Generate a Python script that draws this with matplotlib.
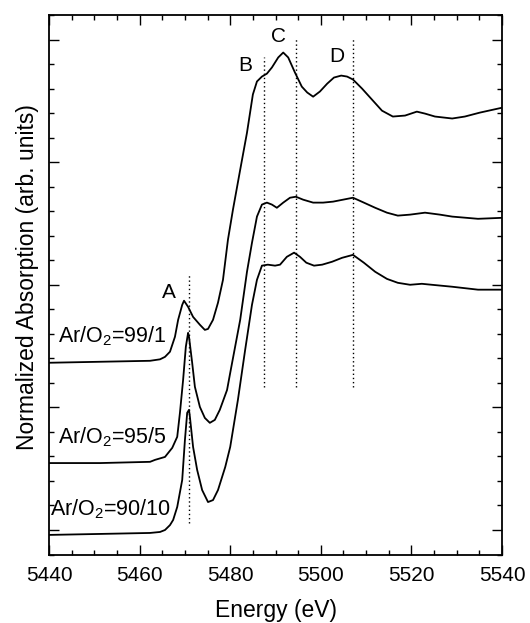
import numpy as np
import matplotlib
matplotlib.use('Agg')
import matplotlib.pyplot as plt
from matplotlib.ticker import MultipleLocator, FixedLocator, NullFormatter

plt.rcParams['font.family'] = ['Liberation Sans', 'DejaVu Sans']
plt.rcParams['mathtext.fontset'] = 'custom'
plt.rcParams['mathtext.rm'] = 'Liberation Sans'

# Ar/O2 = 99/1 (top curve)
e_991 = [5440.0, 5462.3, 5464.5, 5465.6, 5466.7, 5467.8, 5468.5, 5469.4, 5469.8, 5470.7,
         5471.8, 5473.3, 5474.4, 5475.1, 5476.2, 5477.3, 5478.4, 5479.5, 5480.6, 5482.2,
         5483.7, 5485.0, 5485.9, 5487.0, 5488.1, 5489.2, 5490.6, 5491.7, 5492.8, 5494.3,
         5495.8, 5497.0, 5498.3, 5499.8, 5501.4, 5502.9, 5504.5, 5505.8, 5507.1, 5509.1,
         5511.3, 5513.5, 5515.9, 5518.6, 5521.2, 5523.0, 5525.2, 5529.0, 5531.8, 5535.1,
         5540.0]
a_991 = [7.82, 7.90, 7.96, 8.06, 8.27, 8.88, 9.57, 10.18, 10.35, 10.10,
         9.69, 9.37, 9.16, 9.20, 9.57, 10.27, 11.20, 12.84, 14.06, 15.69,
         17.20, 18.76, 19.29, 19.49, 19.61, 19.86, 20.27, 20.47, 20.27, 19.65,
         19.08, 18.84, 18.67, 18.88, 19.20, 19.45, 19.53, 19.49, 19.37, 19.00,
         18.55, 18.10, 17.86, 17.90, 18.06, 17.98, 17.86, 17.78, 17.86, 18.02,
         18.22]

# Ar/O2 = 95/5 (middle curve)
e_955 = [5440.0, 5451.3, 5462.3, 5463.4, 5465.6, 5467.2, 5468.3, 5468.9, 5469.6, 5470.2,
         5470.7, 5470.9, 5471.6, 5472.2, 5473.3, 5474.4, 5475.5, 5476.6, 5477.7, 5479.3,
         5480.0, 5482.2, 5483.7, 5484.8, 5485.9, 5487.0, 5488.1, 5489.2, 5490.3, 5491.7,
         5493.2, 5494.5, 5496.1, 5498.3, 5500.5, 5502.7, 5504.9, 5507.1, 5509.5, 5512.0,
         5514.6, 5517.0, 5519.7, 5523.0, 5526.3, 5529.0, 5534.7, 5540.0]
a_955 = [3.73, 3.73, 3.78, 3.86, 3.98, 4.35, 4.80, 5.78, 7.12, 8.47,
         9.04, 8.88, 7.82, 6.84, 6.02, 5.57, 5.37, 5.49, 5.90, 6.71,
         7.41, 9.57, 11.53, 12.71, 13.78, 14.27, 14.35, 14.27, 14.14, 14.35,
         14.55, 14.59, 14.47, 14.35, 14.35, 14.39, 14.47, 14.55, 14.35, 14.14,
         13.94, 13.82, 13.86, 13.94, 13.86, 13.78, 13.69, 13.73]

# Ar/O2 = 90/10 (bottom curve)
e_9010 = [5440.0, 5451.3, 5462.3, 5464.5, 5465.6, 5466.7, 5467.4, 5468.3, 5469.4, 5470.0,
          5470.5, 5470.9, 5471.1, 5471.8, 5472.7, 5473.8, 5475.1, 5476.2, 5477.3, 5478.9,
          5480.0, 5481.7, 5483.3, 5484.8, 5485.9, 5487.0, 5488.3, 5489.9, 5491.0, 5492.5,
          5494.1, 5495.4, 5496.8, 5498.5, 5500.3, 5502.5, 5504.7, 5507.1, 5509.5, 5512.0,
          5514.6, 5517.0, 5519.7, 5522.3, 5524.5, 5529.0, 5534.7, 5540.0]
a_9010 = [0.80, 0.84, 0.88, 0.92, 1.00, 1.20, 1.41, 1.94, 3.04, 4.67,
          5.78, 5.90, 5.61, 4.39, 3.45, 2.63, 2.14, 2.22, 2.63, 3.57,
          4.39, 6.31, 8.35, 10.18, 11.20, 11.78, 11.82, 11.78, 11.82, 12.14,
          12.31, 12.14, 11.90, 11.78, 11.82, 11.94, 12.10, 12.22, 11.90, 11.53,
          11.24, 11.08, 11.00, 11.04, 11.00, 10.92, 10.80, 10.80]

# dotted feature markers: energy, top, bottom
peak_names = ['A', 'B', 'C', 'D']
peak_e = [5470.9, 5487.5, 5494.5, 5507.2]
peak_top = [11.41, 20.27, 21.08, 21.08]
peak_bot = [1.29, 6.84, 6.84, 6.84]
label_e = [5466.4, 5483.3, 5490.6, 5503.6]
label_y = [10.67, 19.94, 21.12, 20.31]

sample_labels = [r'Ar/O$_\mathregular{2}$=99/1', r'Ar/O$_\mathregular{2}$=95/5',
                 r'Ar/O$_\mathregular{2}$=90/10']
sample_x = [5442.0, 5442.0, 5440.2]
sample_y = [8.63, 4.55, 1.61]

fig = plt.figure(figsize=(5.3, 6.23), dpi=100)
ax = fig.add_axes([0.0925, 0.1099, 0.8547, 0.8660])

for e, a in [(e_991, a_991), (e_955, a_955), (e_9010, a_9010)]:
    ax.plot(e, a, color='black', lw=1.3, solid_joinstyle='round')

ax.vlines(peak_e, peak_bot, peak_top, colors='black', linestyles=(0, (1, 2)), lw=1.0)

for name, x, y in zip(peak_names, label_e, label_y):
    ax.text(x, y, name, fontsize=15, ha='center', va='center')

for s, x, y in zip(sample_labels, sample_x, sample_y):
    ax.text(x, y, s, fontsize=15.5, ha='left', va='baseline')

ax.set_xlim(5440, 5540)
ax.set_ylim(0, 22)
ax.xaxis.set_major_locator(MultipleLocator(20))
ax.xaxis.set_minor_locator(MultipleLocator(5))
ax.yaxis.set_major_locator(FixedLocator([1, 6, 11, 16, 21]))
ax.yaxis.set_minor_locator(MultipleLocator(1))
ax.yaxis.set_major_formatter(NullFormatter())

ax.tick_params(which='both', direction='in', top=True, right=True, width=1.0)
ax.tick_params(which='major', length=7)
ax.tick_params(which='minor', length=3.5)
ax.tick_params(axis='x', labelsize=15, pad=8)
for sp in ax.spines.values():
    sp.set_linewidth(1.3)

ax.set_xlabel('Energy (eV)', fontsize=16.5, labelpad=10)
ax.set_ylabel('Normalized Absorption (arb. units)', fontsize=16.5)
ax.yaxis.set_label_coords(-0.022, 0.514)

fig.savefig('out.png', dpi=100)
